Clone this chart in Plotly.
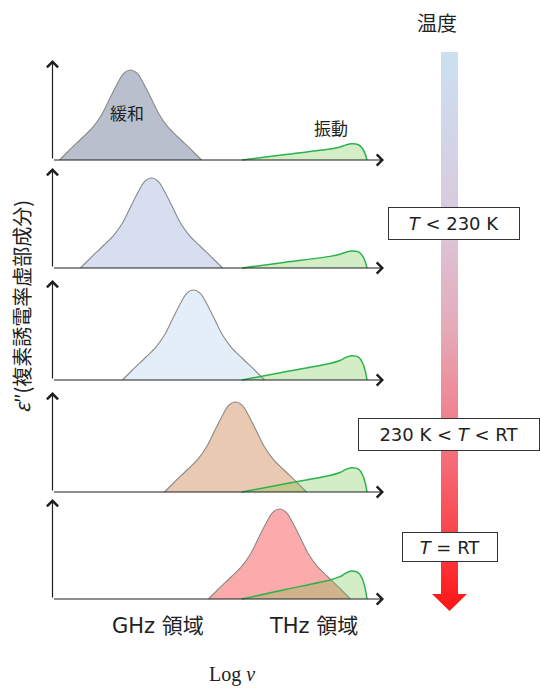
import plotly.graph_objects as go

W, H = 540, 689

# ---- data ---------------------------------------------------------------
# Relaxation peak position on the log-frequency axis for each temperature step
relax_centers = [78, 99, 141, 183, 227]
# Shared relaxation line shape: offset from the peak centre and normalised ε″
relax_offsets = [-71, -62, -48, -38, -29, -20, -14, -7, 0, 7, 14, 20, 29, 38, 48, 62, 71]
relax_shape = [0, 0.1, 0.25, 0.36, 0.5, 0.7, 0.83, 0.96, 1.0, 0.96, 0.83, 0.7, 0.5, 0.36, 0.25, 0.1, 0]
relax_fill = ["#b9bfcc", "#d7def0", "#e4eef8", "#e9c9b1", "#fbabab"]

# Vibrational (THz) band: positions, normalised shape and amplitude per step
vib_x = [189.5, 233, 277.5, 287.5, 294, 299, 306, 310, 312.5, 314.5]
vib_shape = [0, 0.34, 0.68, 0.8, 0.94, 1.0, 0.94, 0.71, 0.41, 0]
vib_amp = [0.18, 0.19, 0.27, 0.27, 0.31]

# Temperature labels next to the colour arrow
temp_labels = ["<i>T</i> < 230 K", "230 K < <i>T</i> < RT", "<i>T</i> = RT"]

# ---- layout geometry (pixels) -------------------------------------------
baselines = [160, 268, 380, 492, 599]
axis_h = 100          # height of each ε″ axis arrow
unit_px = 90          # pixels per unit of normalised ε″
x0_px = 52.5          # pixel position of the ε″ axis
x_tip = 331.5         # length of the log ν arrow
pad = 6

JP = "Noto Sans CJK JP, DejaVu Sans, sans-serif"
SANS = "DejaVu Sans, Noto Sans CJK JP, sans-serif"


def py(y):
    return 1 - y / H


fig = go.Figure()
layout = dict(
    width=W, height=H, margin=dict(l=0, r=0, t=0, b=0),
    paper_bgcolor="white", plot_bgcolor="rgba(0,0,0,0)",
    showlegend=False, font=dict(family=SANS, color="#222"),
)
annotations = []


def label(x, y, text, size, family=SANS, xref="paper", yref="paper", **kw):
    annotations.append(dict(x=x, y=y, xref=xref, yref=yref, text=text, showarrow=False,
                            xanchor="center", yanchor="middle",
                            font=dict(family=family, size=size, color="#222"), **kw))


for i in range(5):
    n = i + 1
    xa, ya = f"x{n}" if n > 1 else "x", f"y{n}" if n > 1 else "y"
    xk, yk = f"xaxis{n}" if n > 1 else "xaxis", f"yaxis{n}" if n > 1 else "yaxis"
    b = baselines[i]
    layout[xk] = dict(domain=[(x0_px - 5) / W, (x0_px + 340) / W], range=[-5, 340],
                      visible=False, anchor=ya, fixedrange=True)
    layout[yk] = dict(domain=[py(b + pad), py(b - axis_h)],
                      range=[-pad / unit_px, axis_h / unit_px],
                      visible=False, anchor=xa, fixedrange=True)

    c = relax_centers[i]
    fig.add_trace(go.Scatter(
        x=[c + o for o in relax_offsets], y=relax_shape, xaxis=xa, yaxis=ya,
        mode="lines", line=dict(color="#8a8a8a", width=1.1, shape="spline", smoothing=0.9),
        fill="tozeroy", fillcolor=relax_fill[i], hoverinfo="skip"))
    fig.add_trace(go.Scatter(
        x=vib_x, y=[vib_amp[i] * s for s in vib_shape], xaxis=xa, yaxis=ya,
        mode="lines", line=dict(color="#2bb24c", width=1.5, shape="spline", smoothing=0.8),
        fill="tozeroy", fillcolor="rgba(110,200,70,0.3)", hoverinfo="skip"))

    # ε″ axis and log ν axis with open arrowheads
    for (hx, hy) in [(0, axis_h / unit_px), (x_tip, 0)]:
        annotations.append(dict(
            x=hx, y=hy, ax=0, ay=0, xref=xa, yref=ya, axref=xa, ayref=ya,
            text="", showarrow=True, arrowhead=4, arrowsize=1.8, arrowwidth=1.2,
            arrowcolor="#1e1e1e", standoff=0))

# peak labels
label(127 - x0_px, (160 - 112) / unit_px, "緩和", 17, JP, xref="x", yref="y")
label(331 - x0_px, (160 - 127) / unit_px, "振動", 17, JP, xref="x", yref="y")

# frequency region labels and axis title
label(158 - x0_px, py(626), "GHz 領域", 21, SANS, xref="x5")
label(313 - x0_px, py(626), "THz 領域", 21, SANS, xref="x5")
label(232 / W, py(674), "Log <i>ν</i>", 20, "Liberation Serif, serif")
label(21 / W, py(307), "<i>ε</i>″(複素誘電率虚部成分)", 20, JP, textangle=-90)
label(437 / W, py(22), "温度", 20, JP)

# temperature arrow with a blue-to-red gradient
shaft_l, shaft_r, head_l, head_r = 441, 458, 432, 467
top_y, neck_y, tip_y = 52, 594, 611
arrow_x = [shaft_l, shaft_r, shaft_r, head_r, (head_l + head_r) / 2, head_l, shaft_l, shaft_l]
arrow_y = [top_y, top_y, neck_y, neck_y, tip_y, neck_y, neck_y, top_y]
layout["xaxis6"] = dict(domain=[0, 1], range=[0, W], visible=False, anchor="y6", fixedrange=True)
layout["yaxis6"] = dict(domain=[0, 1], range=[H, 0], visible=False, anchor="x6", fixedrange=True)
fig.add_trace(go.Scatter(
    x=arrow_x, y=arrow_y, xaxis="x6", yaxis="y6", mode="lines", line=dict(width=0),
    fill="toself", hoverinfo="skip",
    fillgradient=dict(type="vertical", start=top_y, stop=tip_y, colorscale=[
        [0.0, "#cbe0f2"], [0.3, "#dac9dc"], [0.5, "#e6a9b8"],
        [0.7, "#f27683"], [0.88, "#fb3f45"], [1.0, "#ff1414"]])))

# temperature range boxes
boxes = [(454, 223.5, 130, 31), (449, 434.5, 180, 31), (450, 547, 94, 28)]
for txt, (bx, by, bw, bh) in zip(temp_labels, boxes):
    label(bx / W, py(by), txt, 18, SANS, width=bw, height=bh, bgcolor="white",
          bordercolor="#333", borderwidth=1, borderpad=0)

layout["annotations"] = annotations
fig.update_layout(**layout)
fig.write_html("out.html")
